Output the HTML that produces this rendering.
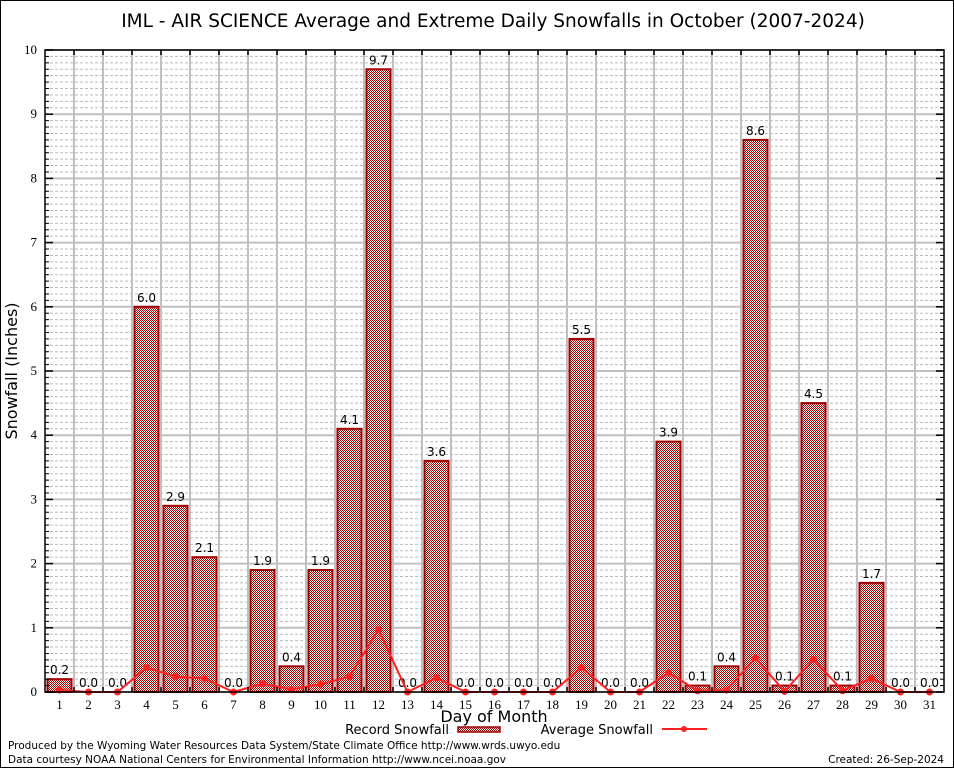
<!DOCTYPE html>
<html><head><meta charset="utf-8"><style>
html,body{margin:0;padding:0;background:#fff}
svg{display:block;font-family:"DejaVu Sans","Liberation Sans",sans-serif}
</style></head><body>
<svg id="chart" width="954" height="768" viewBox="0 0 954 768" xmlns="http://www.w3.org/2000/svg">
<defs>
<pattern id="chk" width="2" height="2" patternUnits="userSpaceOnUse">
<rect width="2" height="2" fill="#fff"/><rect width="1" height="1" fill="#a00000"/><rect x="1" y="1" width="1" height="1" fill="#a00000"/>
</pattern>
</defs>
<rect x="0.5" y="0.5" width="953" height="767" fill="#fff" stroke="#000"/>
<text x="493" y="27" font-size="18.5" text-anchor="middle">IML - AIR SCIENCE Average and Extreme Daily Snowfalls in October (2007-2024)</text>
<g id="grid"></g>
<g id="bars"></g>
<g id="avg"></g>
<g id="axes"></g>
<text transform="translate(17,371) rotate(-90)" font-size="16" text-anchor="middle">Snowfall (Inches)</text>
<text x="494" y="722" font-size="16" text-anchor="middle">Day of Month</text>
<g>
<text x="449" y="734" font-size="13" text-anchor="end">Record Snowfall</text>
<rect x="458" y="727" width="42" height="5" fill="url(#chk)" stroke="#a00000" stroke-width="1.5"/>
<text x="653" y="734" font-size="13" text-anchor="end">Average Snowfall</text>
<line x1="662" y1="729" x2="707" y2="729" stroke="#ff2020" stroke-width="2"/>
<circle cx="684" cy="729" r="3" fill="#ff2020"/>
</g>
<text x="8" y="749" font-size="10.5">Produced by the Wyoming Water Resources Data System/State Climate Office http://www.wrds.uwyo.edu</text>
<text x="8" y="763" font-size="10.5">Data courtesy NOAA National Centers for Environmental Information http://www.ncei.noaa.gov</text>
<text x="944" y="763" font-size="10.5" text-anchor="end">Created: 26-Sep-2024</text>
</svg>
<script>
const days = [1,2,3,4,5,6,7,8,9,10,11,12,13,14,15,16,17,18,19,20,21,22,23,24,25,26,27,28,29,30,31];
const recordSnow = [0.2,0,0,6.0,2.9,2.1,0,1.9,0.4,1.9,4.1,9.7,0,3.6,0,0,0,0,5.5,0,0,3.9,0.1,0.4,8.6,0.1,4.5,0.1,1.7,0,0];
const avgSnow = [0.03,0,0,0.38,0.24,0.21,0,0.13,0.04,0.12,0.24,0.97,0,0.22,0,0,0,0,0.38,0,0,0.3,0.02,0.03,0.53,0.01,0.51,0.02,0.21,0,0];
const yTicks = [0,1,2,3,4,5,6,7,8,9,10];

const NS='http://www.w3.org/2000/svg';
const L=45,R=944,T=50,B=692;
const x=d=>59.5+(d-1)*29;
const y=v=>B-(v/10)*(B-T);
function mk(tag,attrs,parent){const e=document.createElementNS(NS,tag);for(const k in attrs)e.setAttribute(k,attrs[k]);parent.appendChild(e);return e;}
const grid=document.getElementById('grid'),bars=document.getElementById('bars'),avg=document.getElementById('avg'),axes=document.getElementById('axes');
for(let i=1;i<100;i++){if(i%10===0)continue;const yy=y(i/10);
 const ln=mk('line',{x1:L,x2:R,y1:yy,y2:yy,stroke:'#bbb','stroke-width':1,'stroke-dasharray':'3,2'},grid);
 
 
 mk('line',{x1:L,x2:L+4,y1:yy,y2:yy,stroke:'#000'},axes);
 mk('line',{x1:R,x2:R-4,y1:yy,y2:yy,stroke:'#000'},axes);}
yTicks.forEach(v=>{const yy=y(v);
 const ln=mk('line',{x1:L,x2:R,y1:yy,y2:yy,stroke:'#c0c0c0','stroke-width':2},grid);
 
 
 mk('line',{x1:L,x2:L+8,y1:yy,y2:yy,stroke:'#000','stroke-width':1.5},axes);
 mk('line',{x1:R,x2:R-8,y1:yy,y2:yy,stroke:'#000','stroke-width':1.5},axes);
 const t=mk('text',{x:L-8,y:yy+4,'font-size':13,'text-anchor':'end','font-family':'Liberation Serif, serif'},axes);t.textContent=v;
 
 });
days.forEach((d,i)=>{
 if(i>0){const xx=x(d)-14.5;
  const ln=mk('line',{x1:xx,x2:xx,y1:T,y2:B,stroke:'#c0c0c0','stroke-width':2},grid);
  
  
  mk('line',{x1:xx,x2:xx,y1:T,y2:T+5,stroke:'#000','stroke-width':1.5},axes);
  mk('line',{x1:xx,x2:xx,y1:B,y2:B-5,stroke:'#000','stroke-width':1.5},axes);}
 const t=mk('text',{x:x(d),y:B+17,'font-size':13,'text-anchor':'middle','font-family':'Liberation Serif, serif'},axes);t.textContent=d;
 
 
 const v=recordSnow[i];
 if(v>0){const r=mk('rect',{x:x(d)-12,y:y(v),width:24,height:B-y(v),fill:'url(#chk)',stroke:'#a00000','stroke-width':2},bars);
  
  }
 const lb=mk('text',{x:x(d),y:y(v)-5,'font-size':12,'text-anchor':'middle'},bars);lb.textContent=v.toFixed(1);
 
 
});
mk('rect',{x:L,y:T,width:R-L,height:B-T,fill:'none',stroke:'#000','stroke-width':1.5},axes);
const pts=days.map((d,i)=>x(d)+','+y(avgSnow[i])).join(' ');
const pl=mk('polyline',{points:pts,fill:'none',stroke:'#ff2020','stroke-width':2},avg);


days.forEach((d,i)=>{const c=mk('circle',{cx:x(d),cy:y(avgSnow[i]),r:3.5,fill:'#ff2020'},avg);
 
 });
</script>
</body></html>
